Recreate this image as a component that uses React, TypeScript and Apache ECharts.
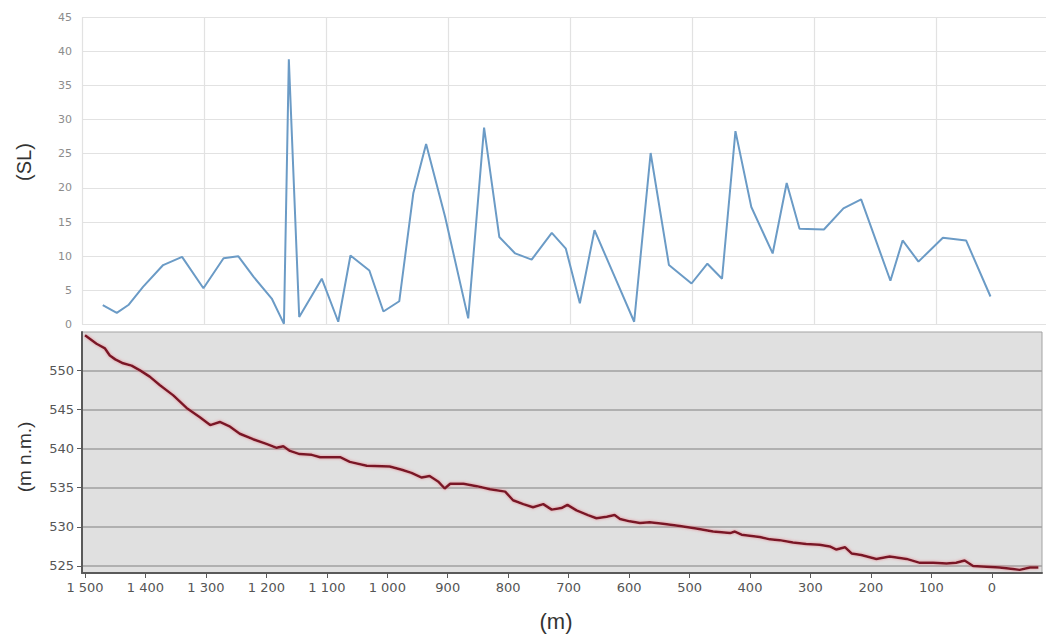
import React, { useEffect, useRef } from "react";
import * as echarts from "echarts";

// Upper chart: distance (m) vs SL value
const slDist = [1466, 1443, 1424, 1400, 1367, 1336, 1301, 1268, 1244, 1219, 1189, 1169, 1161, 1144, 1107, 1080, 1060, 1029, 1006, 980, 957, 936, 905, 867, 841, 816, 790, 763, 730, 707, 684, 660, 627, 595, 568, 538, 501, 475, 451, 429, 403, 368, 345, 324, 284, 252, 223, 175, 155, 129, 89, 51, 11];
const slValue = [2.85, 1.7, 2.85, 5.5, 8.7, 9.9, 5.3, 9.7, 10.0, 7.0, 3.8, 0.1, 38.8, 1.1, 6.7, 0.4, 10.1, 7.9, 1.9, 3.4, 19.2, 26.4, 15.8, 0.9, 28.8, 12.8, 10.4, 9.5, 13.4, 11.1, 3.1, 13.8, 7.0, 0.4, 25.1, 8.7, 6.0, 8.9, 6.7, 28.3, 17.2, 10.4, 20.7, 14.0, 13.9, 17.0, 18.3, 6.4, 12.3, 9.2, 12.7, 12.3, 4.1];

// Lower chart: elevation profile (m n.m.)
const profDist = [1500, 1481, 1467, 1459, 1450, 1437, 1423, 1409, 1393, 1376, 1354, 1332, 1310, 1293, 1277, 1260, 1244, 1222, 1200, 1183, 1172, 1161, 1145, 1125, 1111, 1095, 1078, 1062, 1034, 996, 976, 960, 943, 930, 916, 905, 896, 874, 852, 830, 805, 792, 775, 759, 742, 728, 712, 702, 687, 668, 654, 637, 624, 615, 599, 582, 566, 544, 516, 489, 461, 433, 425, 414, 384, 367, 351, 329, 307, 285, 268, 257, 243, 232, 216, 191, 169, 141, 119, 97, 75, 59, 45, 31, 9, -13, -35, -46, -63, -77];
const profElev = [554.5, 553.4, 552.8, 551.9, 551.4, 550.9, 550.6, 550.0, 549.2, 548.1, 546.8, 545.2, 544.0, 543.0, 543.4, 542.8, 541.9, 541.2, 540.6, 540.1, 540.3, 539.7, 539.3, 539.2, 538.9, 538.9, 538.9, 538.3, 537.8, 537.7, 537.3, 536.9, 536.3, 536.5, 535.8, 534.9, 535.5, 535.5, 535.2, 534.8, 534.5, 533.4, 532.9, 532.5, 532.9, 532.2, 532.4, 532.8, 532.1, 531.5, 531.1, 531.3, 531.5, 531.0, 530.7, 530.5, 530.6, 530.4, 530.1, 529.8, 529.4, 529.2, 529.4, 529.0, 528.7, 528.4, 528.3, 528.0, 527.8, 527.7, 527.5, 527.1, 527.4, 526.6, 526.4, 525.9, 526.2, 525.9, 525.4, 525.4, 525.3, 525.4, 525.7, 525.0, 524.9, 524.8, 524.6, 524.5, 524.8, 524.8];

// Tick values
const topGridDist = [100, 300, 500, 700, 900, 1100, 1300, 1500];
const distTicks = [0, 100, 200, 300, 400, 500, 600, 700, 800, 900, 1000, 1100, 1200, 1300, 1400, 1500];
const elevTicks = [525, 530, 535, 540, 545, 550];

const fmtDist = (v: number) => {
  if (Math.abs(v) >= 1000) {
    const th = Math.floor(v / 1000);
    const rest = String(v % 1000).padStart(3, "0");
    return `${th} ${rest}`;
  }
  return String(v);
};

export default function App() {
  const ref = useRef<HTMLDivElement>(null);
  useEffect(() => {
    document.body.style.margin = "0";
    if (!ref.current) return;
    const chart = echarts.init(ref.current, null, { renderer: "svg" });
    const font = "'Liberation Sans', Arial, sans-serif";
    const tickFont = "'DejaVu Sans', sans-serif";
    chart.setOption({
      animation: false,
      textStyle: { fontFamily: font },
      grid: [
        { left: 82, top: 17, width: 964, height: 307.5, show: false },
        {
          left: 82, top: 332, width: 960, height: 241, show: true,
          backgroundColor: "#e0e0e0", borderColor: "#a3a3a3", borderWidth: 1,
        },
      ],
      xAxis: [
        {
          type: "value", gridIndex: 0, min: -80, max: 1500, inverse: true,
          axisLine: { show: false },
          axisTick: { show: false, customValues: topGridDist },
          axisLabel: { show: false },
          splitLine: { show: true, lineStyle: { color: "#e2e2e2", width: 1.2 } },
        },
        {
          type: "value", gridIndex: 1, min: -83, max: 1505, inverse: true,
          axisLine: { show: true, onZero: false, lineStyle: { color: "#5a5a5a", width: 2 } },
          axisTick: { show: true, customValues: distTicks, length: 5, lineStyle: { color: "#5a5a5a" } },
          axisLabel: {
            show: true, customValues: distTicks, color: "#555555", fontSize: 13, margin: 8,
            fontFamily: tickFont,
            formatter: (v: number) => fmtDist(v),
          },
          splitLine: { show: false },
        },
      ],
      yAxis: [
        {
          type: "value", gridIndex: 0, min: 0, max: 45, interval: 5,
          axisLine: { show: false },
          axisTick: { show: false },
          axisLabel: { color: "#8c8c8c", fontSize: 11, margin: 10, fontFamily: tickFont },
          splitLine: { show: true, lineStyle: { color: "#e2e2e2", width: 1.2 } },
        },
        {
          type: "value", gridIndex: 1, min: 524.1, max: 554.9,
          axisLine: { show: true, onZero: false, lineStyle: { color: "#5a5a5a", width: 2 } },
          axisTick: { show: true, customValues: elevTicks, length: 5, lineStyle: { color: "#5a5a5a" } },
          axisLabel: { show: true, customValues: elevTicks, color: "#555555", fontSize: 13, margin: 8, fontFamily: tickFont },
          splitLine: { show: true, lineStyle: { color: "#a0a0a0", width: 1.5 } },
        },
      ],
      series: [
        {
          type: "line", xAxisIndex: 0, yAxisIndex: 0, symbol: "none",
          data: slDist.map((d, i) => [d, slValue[i]]),
          lineStyle: { color: "#6b9bc6", width: 2 },
        },
        {
          type: "line", xAxisIndex: 1, yAxisIndex: 1, symbol: "none",
          data: profDist.map((d, i) => [d, profElev[i]]),
          lineStyle: { color: "#7a1626", width: 2.5, shadowColor: "rgba(230,120,130,0.8)", shadowBlur: 3 },
        },
      ],
      graphic: [
        {
          type: "text", x: 24, y: 162, rotation: Math.PI / 2,
          style: { text: "(SL)", fontSize: 20, fill: "#333333", align: "center", verticalAlign: "middle", fontFamily: font },
        },
        {
          type: "text", x: 24, y: 457, rotation: Math.PI / 2,
          style: { text: "(m n.m.)", fontSize: 19, fill: "#333333", align: "center", verticalAlign: "middle", fontFamily: font },
        },
        {
          type: "text", x: 556, y: 621,
          style: { text: "(m)", fontSize: 22, fill: "#333333", align: "center", verticalAlign: "middle", fontFamily: font },
        },
      ],
    });
    return () => chart.dispose();
  }, []);
  return (
    <div
      ref={ref}
      style={{ position: "absolute", left: 0, top: 0, width: 1046, height: 639, background: "#ffffff" }}
    />
  );
}
